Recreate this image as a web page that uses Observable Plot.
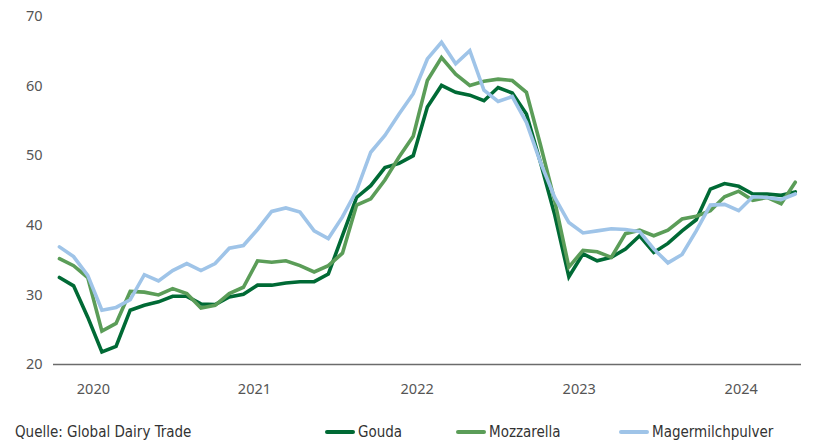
<!DOCTYPE html>
<html>
<head>
<meta charset="utf-8">
<script src="https://cdn.jsdelivr.net/npm/d3@7"></script>
<script src="https://cdn.jsdelivr.net/npm/@observablehq/plot@0.6"></script>
<style>
  html, body { margin: 0; padding: 0; background: #fff; }
  body { width: 813px; height: 442px; position: relative; overflow: hidden; font-family: "Noto Sans", sans-serif; }
  #chart svg { display: block; }
  .legend { position: absolute; top: 423px; left: 0; width: 813px; height: 19px;
            font-family: "Liberation Sans Narrow", "DejaVu Sans Condensed", sans-serif; font-size: 15px; color: #333; }
  .legend span { position: absolute; top: 0; line-height: 19px; white-space: nowrap; }
  .sw { display: inline-block; width: 30px; height: 4px; border-radius: 2px; vertical-align: middle; margin-right: 3px; position: relative; top: -1px; }
</style>
</head>
<body>
<div id="chart"></div>
<div class="legend">
  <span style="left:15px">Quelle: Global Dairy Trade</span>
  <span style="left:325px"><i class="sw" style="background:#006a35"></i>Gouda</span>
  <span style="left:456px"><i class="sw" style="background:#5b9d58"></i>Mozzarella</span>
  <span style="left:619px"><i class="sw" style="background:#9fc4e8"></i>Magermilchpulver</span>
</div>
<script>
// Series values (one point per period, left to right)
const gouda = [32.5,31.3,26.8,21.8,22.6,27.8,28.5,29.0,29.8,29.8,28.7,28.6,29.7,30.1,31.4,31.4,31.7,31.9,31.9,33.0,
  38.5,44.0,45.7,48.3,48.9,50.0,57.0,60.1,59.1,58.7,57.9,59.8,59.0,56.0,49.0,41.5,32.6,35.9,34.9,35.4,
  36.6,38.5,36.1,37.4,39.2,40.8,45.2,46.0,45.6,44.5,44.5,44.3,44.8];
const mozzarella = [35.2,34.2,32.5,24.8,25.9,30.5,30.4,30.0,30.9,30.2,28.1,28.5,30.2,31.1,34.9,34.7,34.9,34.2,33.3,34.2,
  36.0,42.9,43.8,46.5,49.8,52.8,60.8,64.1,61.7,60.1,60.7,61.0,60.8,59.1,51.5,43.5,34.0,36.4,36.2,35.4,
  38.8,39.3,38.5,39.3,40.9,41.3,42.1,44.1,44.9,43.6,44.0,43.1,46.2];
const magermilchpulver = [36.9,35.5,32.8,27.8,28.2,29.3,32.9,32.0,33.5,34.5,33.5,34.5,36.7,37.1,39.4,42.0,42.5,41.9,39.2,38.1,
  41.2,45.0,50.5,52.9,56.0,58.9,63.9,66.3,63.2,65.1,59.4,57.8,58.5,54.8,49.0,44.0,40.4,38.9,39.2,39.5,
  39.4,39.1,36.6,34.6,35.8,39.2,42.9,43.0,42.1,44.1,44.0,43.7,44.5];

const seriesNames = ["Gouda", "Mozzarella", "Magermilchpulver"];
const seriesColors = ["#006a35", "#5b9d58", "#9fc4e8"];

// Tick labels
const yearLabels = ["2020", "2021", "2022", "2023", "2024"];
const yearTickIndex = [2.4, 13.78, 25.28, 36.73, 48.18]; // position of each label along the period index
const yTicks = [20, 30, 40, 50, 60, 70];

const table = [];
[gouda, mozzarella, magermilchpulver].forEach((vals, s) =>
  vals.forEach((v, i) => table.push({series: seriesNames[s], i, v})));

const chart = Plot.plot({
  width: 813,
  height: 412,
  marginLeft: 53,
  marginRight: 12,
  marginTop: 16,
  marginBottom: 48,
  style: {fontFamily: "'Noto Sans', sans-serif", fontSize: "14.5px", color: "#555"},
  x: {domain: [-0.42, 52.44], ticks: yearTickIndex, tickFormat: (d, k) => yearLabels[k], tickSize: 0, tickPadding: 19, label: null},
  y: {domain: [20, 70], ticks: yTicks, tickSize: 0, tickPadding: 11, label: null},
  color: {domain: seriesNames, range: seriesColors},
  marks: [
    Plot.ruleY([20], {stroke: "#6b6b6b", strokeWidth: 1.5}),
    Plot.line(table, {x: "i", y: "v", z: "series", stroke: "series", strokeWidth: 3.6, strokeLinejoin: "miter", strokeMiterlimit: 3, curve: "linear"})
  ]
});
document.getElementById("chart").append(chart);
</script>
</body>
</html>
